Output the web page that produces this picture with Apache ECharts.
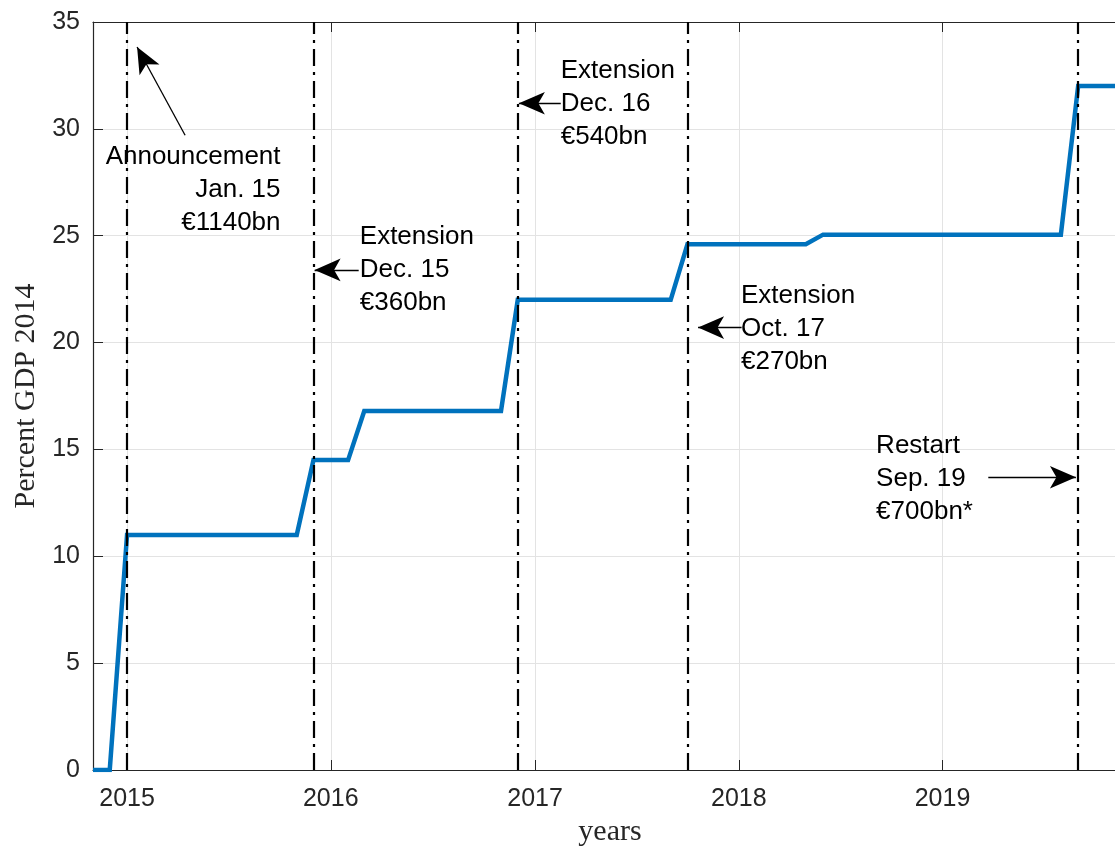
<!DOCTYPE html>
<html>
<head>
<meta charset="utf-8">
<script src="https://cdn.jsdelivr.net/npm/echarts@6/dist/echarts.min.js"></script>
<style>
  html, body { margin: 0; padding: 0; background: #fff; }
  #chart { width: 1115px; height: 848px; }
</style>
</head>
<body>
<div id="chart"></div>
<script>
"use strict";

// stock of asset purchases, percent of 2014 GDP (change points only)
var dates  = ['2014-11-01', '2014-12-01', '2015-01-01', '2015-11-01', '2015-12-01', '2016-02-01',
              '2016-03-01', '2016-11-01', '2016-12-01', '2017-09-01', '2017-10-01', '2018-05-01',
              '2018-06-01', '2019-08-01', '2019-09-01', '2019-11-06'];
var values = [0, 0, 11, 11, 14.5, 14.5, 16.8, 16.8, 22, 22, 24.6, 24.6, 25.05, 25.05, 32, 32];

// programme decisions (dash-dot lines)
var eventDates = ['2015-01-01', '2015-12-01', '2016-12-01', '2017-10-01', '2019-09-01'];

// annotation text, anchor (date, value) and arrow (from -> to)
var noteTexts  = ['Announcement\nJan. 15\n€1140bn', 'Extension\nDec. 15\n€360bn',
                  'Extension\nDec. 16\n€540bn', 'Extension\nOct. 17\n€270bn', 'Restart\nSep. 19\n€700bn*'];
var noteDates  = ['2015-10-03', '2016-02-22', '2017-02-16', '2018-01-05', '2018-09-04'];
var noteValues = [27.14, 23.4, 31.16, 20.64, 13.62];
var noteAlign  = ['right', 'left', 'left', 'left', 'left'];
var arrowFromDates  = ['2015-04-15', '2016-02-20', '2017-02-16', '2018-01-06', '2019-03-24'];
var arrowFromValues = [29.7, 23.4, 31.2, 20.7, 13.7];
var arrowToDates    = ['2015-01-19', '2015-12-03', '2016-12-03', '2017-10-20', '2019-08-28'];
var arrowToValues   = [33.83, 23.4, 31.2, 20.7, 13.7];

var xMin = '2014-11-01', xMax = '2019-11-06';

function t(s) { return +echarts.time.parse(s); }

var chart = echarts.init(document.getElementById('chart'));
var year = 365.25 * 24 * 3600 * 1000;
var axisColor = '#262626';
var gridColor = '#e3e3e3';
var tickFont = { fontFamily: 'Liberation Sans, Arial, sans-serif', fontSize: 25, color: axisColor };
var serif = { fontFamily: 'Liberation Serif, Times New Roman, serif', fontSize: 30, color: axisColor };

var option = {
  backgroundColor: '#ffffff',
  animation: false,
  grid: { left: 93, right: 0, top: 22, bottom: 78, outerBoundsMode: 'none' },
  xAxis: [{
    type: 'time',
    min: t(xMin),
    max: t(xMax),
    minInterval: year,
    maxInterval: year,
    name: 'years',
    nameLocation: 'middle',
    nameGap: 46,
    nameTextStyle: Object.assign({ padding: [0, 0, 0, 12] }, serif),
    axisLine: { show: true, lineStyle: { color: axisColor, width: 1.2 } },
    axisTick: { show: true, inside: true, length: 10, lineStyle: { color: axisColor } },
    axisLabel: Object.assign({ margin: 17, formatter: function (v) { return String(new Date(v).getFullYear()); } }, tickFont),
    splitLine: { show: true, lineStyle: { color: gridColor, width: 1 } }
  }, {
    type: 'time',
    position: 'top',
    min: t(xMin),
    max: t(xMax),
    minInterval: year,
    maxInterval: year,
    axisLine: { show: true, lineStyle: { color: axisColor, width: 1.2 } },
    axisTick: { show: true, inside: true, length: 10, lineStyle: { color: axisColor } },
    axisLabel: { show: false },
    splitLine: { show: false }
  }],
  yAxis: {
    type: 'value',
    min: 0,
    max: 35,
    interval: 5,
    name: 'Percent GDP 2014',
    nameLocation: 'middle',
    nameGap: 52,
    nameTextStyle: serif,
    axisLine: { show: true, lineStyle: { color: axisColor, width: 1.2 } },
    axisTick: { show: true, inside: true, length: 10, lineStyle: { color: axisColor } },
    axisLabel: Object.assign({ margin: 13 }, tickFont),
    splitLine: { show: true, lineStyle: { color: gridColor, width: 1 } }
  },
  series: [{
    name: 'purchases',
    type: 'line',
    data: dates.map(function (d, i) { return [t(d), values[i]]; }),
    showSymbol: false,
    lineStyle: { color: '#0072BD', width: 4.5, join: 'miter' },
    z: 2
  }, {
    name: 'events',
    type: 'line',
    data: [],
    z: 3,
    markLine: {
      silent: true,
      symbol: 'none',
      label: { show: false },
      lineStyle: { color: '#000000', width: 2.2, type: [17, 6, 3, 6] },
      data: eventDates.map(function (d) { return { xAxis: t(d) }; })
    }
  }, {
    name: 'notes',
    type: 'line',
    data: [],
    z: 4,
    markLine: {
      silent: true,
      symbol: ['none', 'arrow'],
      symbolSize: [17, 26],
      label: { show: false },
      lineStyle: { color: '#000000', width: 1.3, type: 'solid' },
      data: arrowFromDates.map(function (d, i) {
        return [{ coord: [t(d), arrowFromValues[i]] }, { coord: [t(arrowToDates[i]), arrowToValues[i]] }];
      })
    },
    markPoint: {
      silent: true,
      symbol: 'circle',
      symbolSize: 1,
      itemStyle: { color: 'rgba(0,0,0,0)' },
      data: noteTexts.map(function (s, i) {
        return {
          coord: [t(noteDates[i]), noteValues[i]],
          label: {
            show: true,
            position: 'inside',
            formatter: s,
            align: noteAlign[i],
            verticalAlign: 'middle',
            fontFamily: 'Liberation Sans, Arial, sans-serif',
            fontSize: 26,
            lineHeight: 33,
            color: '#000000'
          }
        };
      })
    }
  }]
};

chart.setOption(option);
</script>
</body>
</html>
